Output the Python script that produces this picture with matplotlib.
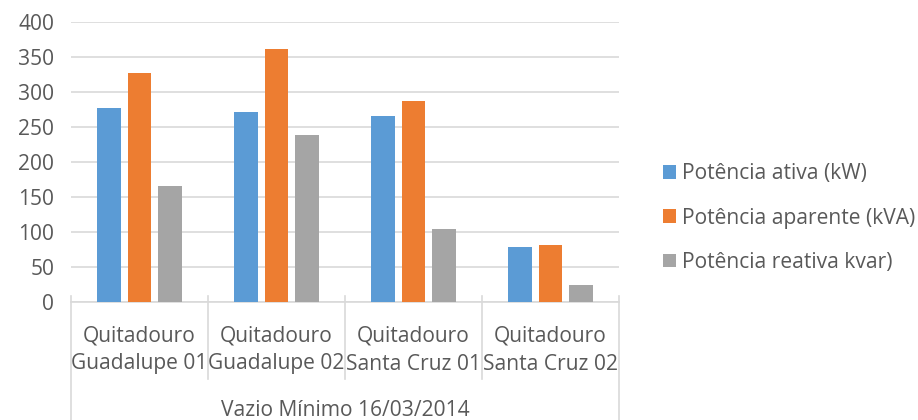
import numpy as np
import matplotlib
matplotlib.use("Agg")
import matplotlib.pyplot as plt
import matplotlib.transforms as mtransforms

# data
line1 = ["Quitadouro", "Quitadouro", "Quitadouro", "Quitadouro"]
line2 = ["Guadalupe 01", "Guadalupe 02", "Santa Cruz 01", "Santa Cruz 02"]
group_label = "Vazio Mínimo 16/03/2014"
series_names = ["Potência ativa (kW)", "Potência aparente (kVA)", "Potência reativa kvar)"]
ativa = [277, 271, 265, 79]
aparente = [327, 362, 287, 82]
reativa = [166, 239, 104, 24]
yticks = [0, 50, 100, 150, 200, 250, 300, 350, 400]

colors = ["#5B9BD5", "#ED7D31", "#A5A5A5"]
txt = "#595959"
grid = "#D9D9D9"
fs = 15.1

plt.rcParams['font.family'] = ['Open Sans', 'DejaVu Sans']

fig = plt.figure(figsize=(9.18, 4.2), dpi=100)
ax = fig.add_axes([71/918, 1-302/420, 548/918, 280/420])

x = np.arange(len(line2))
offsets = [-0.223, 0, 0.223]
for vals, off, c, name in zip([ativa, aparente, reativa], offsets, colors, series_names):
    ax.bar(x + off, vals, width=0.172, color=c, label=name, zorder=3)

ax.set_xlim(-0.5, 3.5)
ax.set_ylim(0, 400)
ax.set_yticks(yticks)
ax.yaxis.grid(True, color=grid, linewidth=1.2, zorder=0)
ax.tick_params(axis='y', length=0, pad=12, labelsize=fs, labelcolor=txt)
ax.set_xticks([])
for s in ['top', 'right', 'left']:
    ax.spines[s].set_visible(False)
ax.spines['bottom'].set_color(grid)
ax.spines['bottom'].set_linewidth(1.2)

trans = mtransforms.blended_transform_factory(ax.transData, ax.transAxes)
# separators under the axis
for b in np.arange(-0.5, 4.0, 1.0):
    bottom = -0.43 if b in (-0.5, 3.5) else -0.275
    ax.plot([b, b], [0.02, bottom], color=grid, lw=1.2, transform=trans, clip_on=False)

for i in x:
    ax.text(i, -34/280, line1[i], transform=trans, ha='center', va='center',
            fontsize=fs, color=txt)
    ax.text(i, -62/280, line2[i], transform=trans, ha='center', va='center',
            fontsize=fs, color=txt)
ax.text(1.5, -109/280, group_label, transform=trans, ha='center', va='center',
        fontsize=fs, color=txt)

leg = ax.legend(loc='center left', bbox_to_anchor=(653/918, 1-218/420), bbox_transform=fig.transFigure,
                frameon=False, fontsize=fs, handlelength=0.6, handleheight=0.6,
                handletextpad=0.3, labelspacing=1.1, labelcolor=txt, borderpad=0)

fig.savefig("out.png", dpi=100)
